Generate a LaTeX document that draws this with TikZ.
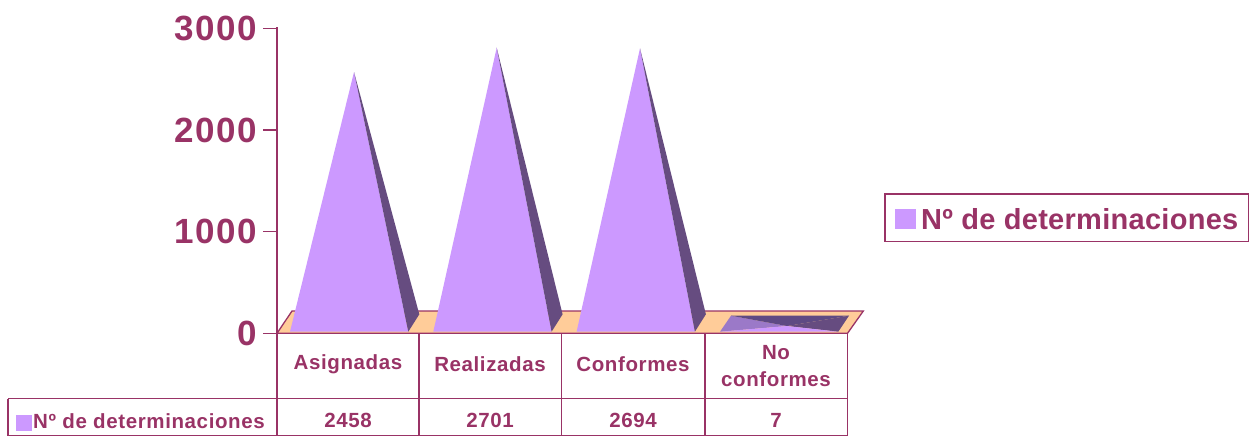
\documentclass[tikz,border=0pt]{standalone}
\usepackage{fontspec}
\setmainfont{Liberation Sans}
\definecolor{plum}{RGB}{153,51,102}
\definecolor{lilac}{RGB}{204,153,255}
\definecolor{shade}{RGB}{102,76,128}
\definecolor{deepshade}{RGB}{94,74,132}
\definecolor{mauve}{RGB}{155,121,200}
\definecolor{peach}{RGB}{255,204,153}

\begin{document}
\begin{tikzpicture}[x=1pt,y=-1pt,
  axislabel/.style={anchor=east,text=plum,font=\fontsize{35}{35}\selectfont\bfseries\addfontfeature{LetterSpace=4},inner sep=0pt},
  cell/.style={text=plum,font=\fontsize{20.5}{27.5}\selectfont\bfseries\addfontfeature{LetterSpace=3},align=center,inner sep=0pt}]
\useasboundingbox (0,0) rectangle (1252,437);
\draw[line width=1.3pt,color=plum,fill=peach](277,333.3)--(292,311)--(863.3,311)--(847.5,333.3)--cycle;
\fill[color=lilac](290,331.7)--(354,72)--(408.3,331.7)--cycle;
\fill[color=shade](408.3,331.7)--(354,72)--(419.3,314.3)--cycle;
\fill[color=lilac](433.3,331.7)--(496.7,47.7)--(551.6,331.7)--cycle;
\fill[color=shade](551.6,331.7)--(496.7,47.7)--(562.6,314.3)--cycle;
\fill[color=lilac](576.6,331.7)--(640,48.3)--(694.9,331.7)--cycle;
\fill[color=shade](694.9,331.7)--(640,48.3)--(705.9,314.3)--cycle;
\fill[color=mauve](720,331.7)--(731,315.7)--(787,326)--cycle;
\fill[color=deepshade](731,315.7)--(849,315.7)--(787,326)--cycle;
\fill[color=shade](849,315.7)--(838.3,331.7)--(787,326)--cycle;
\fill[color=lilac](720,331.7)--(838.3,331.7)--(787,326)--cycle;
\draw[line width=1.3pt,color=plum](277,27)--(277,435.5);
\draw[line width=1.3pt,color=plum](263,28.3)--(277,28.3);
\draw[line width=1.3pt,color=plum](263,130)--(277,130);
\draw[line width=1.3pt,color=plum](263,231.7)--(277,231.7);
\draw[line width=1.3pt,color=plum](263,333.3)--(847.5,333.3);
\node[axislabel] (l3000) at (257,28.3) {3000};
\node[axislabel] (l2000) at (257,130) {2000};
\node[axislabel] (l1000) at (257,231.7) {1000};
\node[axislabel] (l0) at (257,333.3) {0};
\draw[line width=1.3pt,color=plum](8,398.5)--(847.5,398.5);
\draw[line width=1.3pt,color=plum](8,435.5)--(847.5,435.5);
\draw[line width=1.3pt,color=plum](8,398.5)--(8,435.5);
\draw[line width=1.3pt,color=plum](419,333.3)--(419,435.5);
\draw[line width=1.3pt,color=plum](561.5,333.3)--(561.5,435.5);
\draw[line width=1.3pt,color=plum](705,333.3)--(705,435.5);
\draw[line width=1.3pt,color=plum](847.5,333.3)--(847.5,435.5);
\node[cell] (asig) at (348,364) {Asignadas};
\node[cell] (real) at (490,364) {Realizadas};
\node[cell] (conf) at (633,364) {Conformes};
\node[cell] (noconf) at (776,366) {No\\conformes};
\fill[color=lilac](16,415)rectangle(31.7,430.7);
\node[cell,anchor=west] (serie) at (33,421) {Nº de determinaciones};
\node[cell] (v1) at (348,420) {2458};
\node[cell] (v2) at (490,420) {2701};
\node[cell] (v3) at (633,420) {2694};
\node[cell] (v4) at (776,420) {7};
\draw[line width=1.3pt,color=plum](885,194)rectangle(1248.5,241.5);
\fill[color=lilac](895,209)rectangle(916,229.3);
\node[anchor=west,text=plum,font=\fontsize{29}{29}\selectfont\bfseries\addfontfeature{LetterSpace=1},inner sep=0pt] (legend) at (921,219.5) {Nº de determinaciones};
\end{tikzpicture}
\end{document}
